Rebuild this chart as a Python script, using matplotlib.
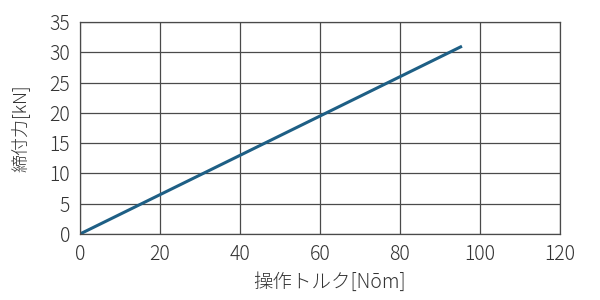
import matplotlib
matplotlib.use("Agg")
import matplotlib.pyplot as plt

plt.rcParams['font.family'] = ['Noto Sans CJK JP', 'DejaVu Sans']

torque = [0, 95.5]
force = [0, 31]
xticks = [0, 20, 40, 60, 80, 100, 120]
yticks = [0, 5, 10, 15, 20, 25, 30, 35]
xlabel = "操作トルク[Nōm]"
ylabel = "締付力[kN]"

fig = plt.figure(figsize=(6, 3), dpi=100)
ax = fig.add_axes([0.1333, 0.22, 0.8, 0.7067])
ax.plot(torque, force, color='#1e5f85', lw=2.2, solid_capstyle='butt')
ax.set_xlim(0, 120)
ax.set_ylim(0, 35)
ax.set_xticks(xticks)
ax.set_yticks(yticks)
ax.grid(True, color='#4a4a4a', lw=0.9)
ax.set_axisbelow(True)
for s in ax.spines.values():
    s.set_color('#4a4a4a')
    s.set_linewidth(0.9)
ax.tick_params(length=0, pad=7, labelsize=14, colors='#333333', labelcolor='#333333')
for lab in ax.get_xticklabels() + ax.get_yticklabels():
    lab.set_fontweight('light')
ax.set_xlabel(xlabel, fontsize=14, color='#333333', fontweight='light')
ax.xaxis.set_label_coords(0.52, -0.18)
ax.set_ylabel(ylabel, fontsize=13, color='#333333', labelpad=14, fontweight='light')
fig.savefig("out.png", dpi=100)
